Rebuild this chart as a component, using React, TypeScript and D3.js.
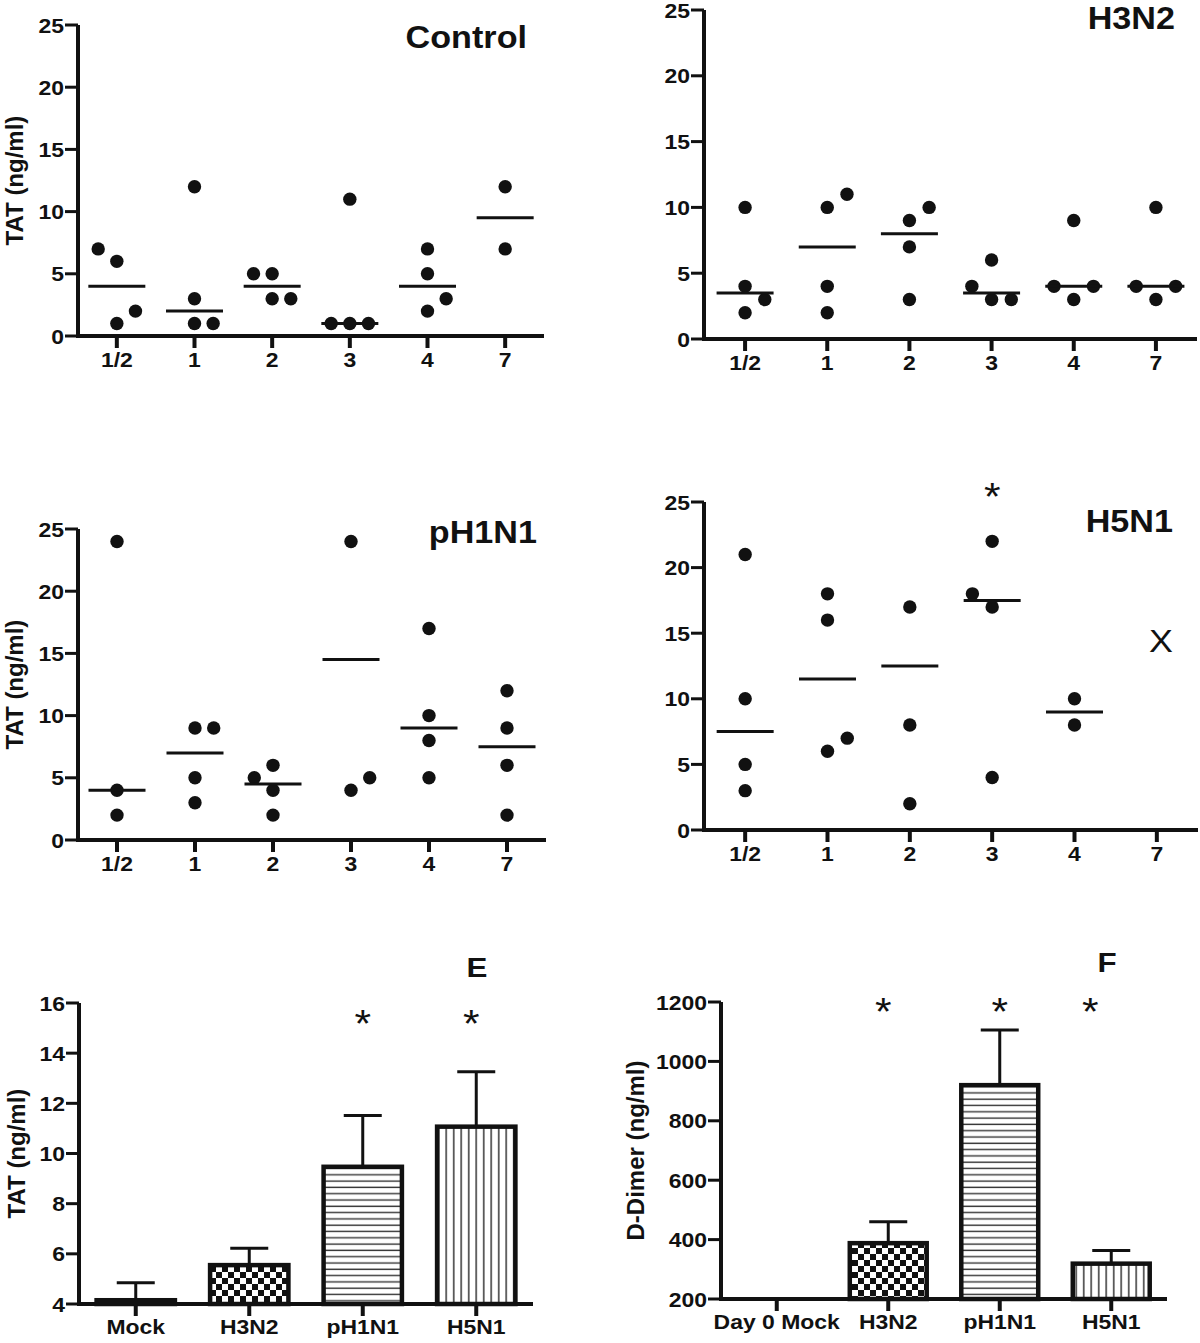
import React from "react";
import * as d3 from "d3";

const FONT = "'Liberation Sans', Arial, Helvetica, sans-serif";
const SX = 1.12; // the figure is a little stretched horizontally

const DAYS = ["1/2", "1", "2", "3", "4", "7"];

// TAT (ng/ml) per day
const CONTROL_TAT = [[7, 6, 2, 1], [12, 3, 1, 1], [5, 5, 3, 3], [11, 1, 1, 1], [7, 5, 3, 2], [12, 7]];
const CONTROL_MEDIAN = [4, 2, 4, 1, 4, 9.5];
const H3N2_TAT = [[10, 4, 3, 2], [11, 10, 4, 2], [10, 9, 7, 3], [6, 4, 3, 3], [9, 4, 4, 3], [10, 4, 4, 3]];
const H3N2_MEDIAN = [3.5, 7, 8, 3.5, 4, 4];
const PH1N1_TAT = [[24, 4, 2], [9, 9, 5, 3], [6, 5, 4, 2], [24, 5, 4], [17, 10, 8, 5], [12, 9, 6, 2]];
const PH1N1_MEDIAN = [4, 7, 4.5, 14.5, 9, 7.5];
const H5N1_TAT = [[21, 10, 5, 3], [18, 16, 7, 6], [17, 8, 2], [22, 18, 17, 4], [10, 8], []];
const H5N1_MEDIAN = [7.5, 11.5, 12.5, 17.5, 9, null];

// bar panels
const E_GROUPS = ["Mock", "H3N2", "pH1N1", "H5N1"];
const E_MEAN = [4.15, 5.55, 9.47, 11.07];
const E_SEM = [0.7, 0.67, 2.04, 2.19];
const E_SIG = [false, false, true, true];

const F_GROUPS = ["Day 0 Mock", "H3N2", "pH1N1", "H5N1"];
const F_MEAN = [200, 388, 920, 319];
const F_SEM = [0, 72, 186, 44];
const F_SIG = [false, true, true, true];

const FILLS = ["#fff", "url(#checker)", "url(#hlines)", "url(#vlines)"];

const Txt = ({ x, y, size, anchor = "middle", weight = "bold", children }: any) => (
  <text
    transform={`translate(${x},${y}) scale(${SX},1)`}
    textAnchor={anchor}
    fontSize={size}
    fontWeight={weight}
    fontFamily={FONT}
    fill="#111"
  >
    {children}
  </text>
);

const YLabel = ({ x, y, children }: any) => (
  <text
    transform={`translate(${x},${y}) rotate(-90)`}
    textAnchor="middle"
    fontSize={24}
    fontWeight="bold"
    fontFamily={FONT}
    fill="#111"
  >
    {children}
  </text>
);

// column scatter like Prism: sort, group overlapping runs, first of a run stays in the
// centre, the rest go out to alternating sides; the starting side flips from run to run
function swarm(values: number[], y: (v: number) => number, slot: number, minDist: number) {
  const sorted = [...values].sort((a, b) => a - b);
  const runs: number[][] = [];
  sorted.forEach((v, i) => {
    if (i > 0 && Math.abs(y(v) - y(sorted[i - 1])) < minDist) runs[runs.length - 1].push(v);
    else runs.push([v]);
  });
  const placed: { v: number; k: number }[] = [];
  let runSide = 1;
  runs.forEach((run) => {
    let side = runSide;
    run.forEach((v) => {
      const free = (k: number) =>
        placed.every((p) => Math.hypot((p.k - k) * slot, y(p.v) - y(v)) >= minDist);
      if (free(0)) {
        placed.push({ v, k: 0 });
        return;
      }
      let k = 0;
      for (let d = 1; d < 5 && k === 0; d++) {
        if (free(side * d)) k = side * d;
        else if (free(-side * d)) k = -side * d;
      }
      placed.push({ v, k });
      side = -side;
    });
    runSide = -runSide;
  });
  return placed;
}

const YAxis = ({ scale, left, ticks }: any) => {
  const [y0, y1] = scale.range();
  return (
    <g>
      <line x1={left} x2={left} y1={y0 + 2} y2={y1} stroke="#111" strokeWidth={4} />
      {ticks.map((t: number) => (
        <g key={t}>
          <line x1={left - 13} x2={left} y1={scale(t)} y2={scale(t)} stroke="#111" strokeWidth={3} />
          <Txt x={left - 14} y={scale(t) + 7.5} size={20.5} anchor="end">
            {String(t)}
          </Txt>
        </g>
      ))}
    </g>
  );
};

const XAxis = ({ scale, bottom, left, right, labelDy = 31 }: any) => (
  <g>
    <line x1={left - 2} x2={right} y1={bottom} y2={bottom} stroke="#111" strokeWidth={4} />
    {scale.domain().map((c: string) => {
      const cx = scale(c) + scale.bandwidth() / 2;
      return (
        <g key={c}>
          <line x1={cx} x2={cx} y1={bottom} y2={bottom + 12} stroke="#111" strokeWidth={4} />
          <Txt x={cx} y={bottom + labelDy} size={20.5}>
            {c}
          </Txt>
        </g>
      );
    })}
  </g>
);

type ScatterProps = {
  left: number;
  right: number;
  top: number;
  bottom: number;
  data: number[][];
  medians: (number | null)[];
  title: string;
  titleX: number;
  titleY: number;
  yLabelX?: number;
  children?: any;
};

const ScatterPanel = ({ left, right, top, bottom, data, medians, title, titleX, titleY, yLabelX, children }: ScatterProps) => {
  const x = d3.scaleBand<string>().domain(DAYS).range([left, right]).padding(0);
  const y = d3.scaleLinear().domain([0, 25]).range([bottom, top]);
  const slot = x.bandwidth() * 0.24;
  return (
    <g>
      {yLabelX !== undefined && <YLabel x={yLabelX} y={(top + bottom) / 2}>TAT (ng/ml)</YLabel>}
      <YAxis scale={y} left={left} ticks={y.ticks(5)} />
      <XAxis scale={x} bottom={bottom} left={left} right={right} />
      <Txt x={titleX} y={titleY} size={30.5} anchor="end">
        {title}
      </Txt>
      {data.map((vals, i) => {
        const cx = (x(DAYS[i]) as number) + x.bandwidth() / 2;
        const pts = swarm(vals, y, slot, 16);
        const m = medians[i];
        return (
          <g key={i}>
            {pts.map((p, j) => (
              <circle key={j} cx={cx + p.k * slot} cy={y(p.v)} r={6.7} fill="#111" />
            ))}
            {m !== null && (
              <line x1={cx - 28.5} x2={cx + 28.5} y1={y(m)} y2={y(m)} stroke="#111" strokeWidth={3} />
            )}
          </g>
        );
      })}
      {children && children(x, y)}
    </g>
  );
};

type BarProps = {
  left: number;
  right: number;
  top: number;
  bottom: number;
  groups: string[];
  means: number[];
  sems: number[];
  sig: boolean[];
  domain: [number, number];
  tickCount: number;
  yLabel: string;
  yLabelX: number;
  letter: string;
  letterX: number;
  letterY: number;
  starValue: number;
  starDx: number[];
};

const BarPanel = (p: BarProps) => {
  const x = d3.scaleBand<string>().domain(p.groups).range([p.left, p.right]).padding(0);
  const y = d3.scaleLinear().domain(p.domain).range([p.bottom, p.top]);
  const bw = x.bandwidth() * 0.69;
  return (
    <g>
      <YLabel x={p.yLabelX} y={(p.top + p.bottom) / 2}>
        {p.yLabel}
      </YLabel>
      {p.groups.map((g, i) => {
        const cx = (x(g) as number) + x.bandwidth() / 2;
        const yt = y(p.means[i]);
        const ye = y(p.means[i] + p.sems[i]);
        return (
          <g key={g}>
            {p.sems[i] > 0 && (
              <g stroke="#111" strokeWidth={3}>
                <line x1={cx} x2={cx} y1={yt} y2={ye} />
                <line x1={cx - 19} x2={cx + 19} y1={ye} y2={ye} />
              </g>
            )}
            <rect
              x={cx - bw / 2}
              y={yt}
              width={bw}
              height={y(p.domain[0]) - yt}
              fill={FILLS[i]}
              stroke="#111"
              strokeWidth={4.5}
            />
            {p.sig[i] && (
              <Txt x={cx + p.starDx[i]} y={y(p.starValue) + 21} size={38} weight="normal">
                *
              </Txt>
            )}
          </g>
        );
      })}
      <YAxis scale={y} left={p.left} ticks={y.ticks(p.tickCount)} />
      <XAxis scale={x} bottom={p.bottom} left={p.left} right={p.right} labelDy={30} />
      <Txt x={p.letterX} y={p.letterY} size={28}>
        {p.letter}
      </Txt>
    </g>
  );
};

export default function App() {
  return (
    <svg
      width={1200}
      height={1343}
      style={{ position: "absolute", left: 0, top: 0, background: "#fff" }}
    >
      <defs>
        <pattern id="checker" width={12} height={12} patternUnits="userSpaceOnUse">
          <rect width={12} height={12} fill="#fff" />
          <rect width={6} height={6} fill="#111" />
          <rect x={6} y={6} width={6} height={6} fill="#111" />
        </pattern>
        <pattern id="hlines" width={10} height={6.3} patternUnits="userSpaceOnUse">
          <rect width={10} height={6.3} fill="#fff" />
          <line x1={0} x2={10} y1={3} y2={3} stroke="#333" strokeWidth={1.4} />
        </pattern>
        <pattern id="vlines" width={7.5} height={10} patternUnits="userSpaceOnUse">
          <rect width={7.5} height={10} fill="#fff" />
          <line x1={3.7} x2={3.7} y1={0} y2={10} stroke="#555" strokeWidth={1.8} />
        </pattern>
      </defs>
      <rect width={1200} height={1343} fill="#fff" />

      <ScatterPanel
        left={78} right={544} top={25} bottom={336}
        data={CONTROL_TAT} medians={CONTROL_MEDIAN}
        title="Control" titleX={527} titleY={48} yLabelX={23}
      />
      <ScatterPanel
        left={704} right={1197} top={10} bottom={339}
        data={H3N2_TAT} medians={H3N2_MEDIAN}
        title="H3N2" titleX={1175} titleY={29}
      />
      <ScatterPanel
        left={78} right={546} top={529} bottom={840}
        data={PH1N1_TAT} medians={PH1N1_MEDIAN}
        title="pH1N1" titleX={537} titleY={543} yLabelX={23}
      />
      <ScatterPanel
        left={704} right={1198} top={502} bottom={830}
        data={H5N1_TAT} medians={H5N1_MEDIAN}
        title="H5N1" titleX={1173} titleY={532}
      >
        {(x: any, y: any) => (
          <g>
            <Txt x={(x("3") as number) + x.bandwidth() / 2} y={y(26) + 21} size={38} weight="normal">
              *
            </Txt>
            <Txt x={(x("7") as number) + x.bandwidth() / 2 + 4} y={y(14.5) + 12} size={32} weight="normal">
              X
            </Txt>
          </g>
        )}
      </ScatterPanel>

      <BarPanel
        left={79} right={533} top={1003} bottom={1304}
        groups={E_GROUPS} means={E_MEAN} sems={E_SEM} sig={E_SIG}
        domain={[4, 16]} tickCount={6}
        yLabel="TAT (ng/ml)" yLabelX={25}
        letter="E" letterX={477} letterY={977}
        starValue={15.5} starDx={[0, 0, 0, -5]}
      />
      <BarPanel
        left={721} right={1167} top={1002} bottom={1299}
        groups={F_GROUPS} means={F_MEAN} sems={F_SEM} sig={F_SIG}
        domain={[200, 1200]} tickCount={5}
        yLabel="D-Dimer (ng/ml)" yLabelX={644}
        letter="F" letterX={1107} letterY={972}
        starValue={1192} starDx={[0, -5, 0, -21]}
      />
    </svg>
  );
}
